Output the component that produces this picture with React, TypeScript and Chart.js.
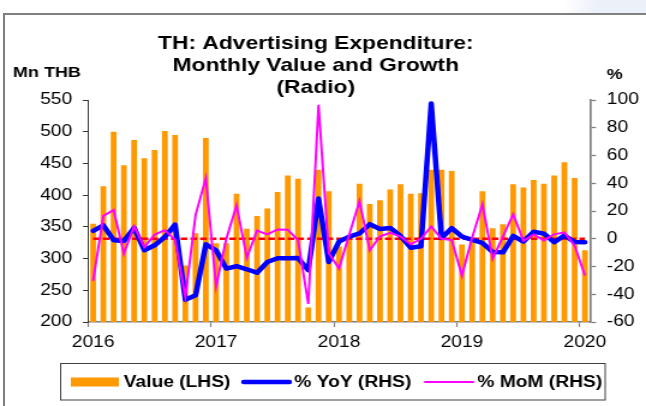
import React, { useEffect, useRef } from 'react';
import { Chart, registerables } from 'chart.js';

Chart.register(...registerables);

const months = [
  'Jan-16', 'Feb-16', 'Mar-16', 'Apr-16', 'May-16', 'Jun-16', 'Jul-16', 'Aug-16', 'Sep-16', 'Oct-16', 'Nov-16', 'Dec-16',
  'Jan-17', 'Feb-17', 'Mar-17', 'Apr-17', 'May-17', 'Jun-17', 'Jul-17', 'Aug-17', 'Sep-17', 'Oct-17', 'Nov-17', 'Dec-17',
  'Jan-18', 'Feb-18', 'Mar-18', 'Apr-18', 'May-18', 'Jun-18', 'Jul-18', 'Aug-18', 'Sep-18', 'Oct-18', 'Nov-18', 'Dec-18',
  'Jan-19', 'Feb-19', 'Mar-19', 'Apr-19', 'May-19', 'Jun-19', 'Jul-19', 'Aug-19', 'Sep-19', 'Oct-19', 'Nov-19', 'Dec-19',
  'Jan-20',
];

const yearLabels = ['2016', '2017', '2018', '2019', '2020'];

// Mn THB
const valueLHS = [
  355, 414, 500, 447, 487, 458, 471, 501, 495, 289, 340, 490,
  324, 324, 402, 347, 367, 379, 405, 431, 426, 223, 440, 406,
  319, 330, 418, 386, 392, 409, 417, 402, 403, 440, 440, 438,
  322, 326, 406, 348, 354, 417, 412, 424, 418, 431, 452, 427,
  313,
];

// % YoY
const yoyRHS = [
  5.7, 9.7, -1, -1.6, 7.8, -8.3, -4.7, 1.3, 10.2, -44, -40.8, -4,
  -8.3, -21.5, -19.8, -22, -24.5, -16.8, -14, -14, -13.9, -22.7, 29, -16.7,
  -2, 1.5, 3.8, 10.5, 7, 7.8, 2, -6.5, -5.4, 97.5, 0.5, 7.6,
  1.5, -0.8, -3, -9.6, -9.8, 2, -2, 5, 3.7, -2.5, 2.3, -2.4,
  -2.5,
];

// % MoM
const momRHS = [
  -30.4, 16.5, 20.7, -10.7, 9, -6, 3, 6.2, -0.8, -42, 17.2, 43.6,
  -34.2, 0, 24, -13.7, 5.8, 3.2, 6.7, 6.5, -1.1, -47, 96.5, -10.5,
  -21.5, 3, 27, -8.3, 1.8, 4.2, 1.6, -4, 0, 8.8, 0, -1,
  -26.5, 1, 24.8, -14.3, 1.5, 17.7, -1.5, 3.1, -1.2, 3.2, 4.6, -5,
  -26.5,
];

const W = 538;
const H = 406;
const SX = 646 / W;

const FONT = "'Liberation Sans', Arial, sans-serif";

const decorPlugin = {
  id: 'decor',
  afterDatasetDraw(chart: any, args: any) {
    if (args.index !== 0) return;
    const ctx = chart.ctx;
    const x = chart.scales.x;
    const y1 = chart.scales.y1;
    const yz = y1.getPixelForValue(0);
    ctx.save();
    ctx.strokeStyle = '#FF0000';
    ctx.lineWidth = 2.5;
    ctx.setLineDash([5.5, 2.6]);
    ctx.beginPath();
    ctx.moveTo(x.getPixelForValue(0), yz);
    ctx.lineTo(x.getPixelForValue(months.length - 1), yz);
    ctx.stroke();
    ctx.restore();
  },
  afterDraw(chart: any) {
    const ctx = chart.ctx;
    ctx.save();
    ctx.fillStyle = '#000';
    ctx.textBaseline = 'middle';
    // Title
    ctx.font = `bold 19px ${FONT}`;
    ctx.textAlign = 'center';
    const tx = 263;
    ctx.fillText('TH: Advertising Expenditure:', tx, 44);
    ctx.fillText('Monthly Value and Growth', tx, 66);
    ctx.fillText('(Radio)', tx, 88);
    // Axis titles
    ctx.font = `bold 15px ${FONT}`;
    ctx.textAlign = 'left';
    ctx.fillText('Mn THB', 10.8, 73);
    ctx.textAlign = 'center';
    ctx.fillText('%', 512, 75);

    // Legend box
    ctx.strokeStyle = '#404040';
    ctx.lineWidth = 1;
    ctx.strokeRect(50.5, 363.5, 453.5, 36.5);
    const ly = 382;
    ctx.fillStyle = '#FF9900';
    ctx.fillRect(59, 377.5, 40, 9);
    ctx.strokeStyle = '#0000FF';
    ctx.lineWidth = 4.5;
    ctx.lineCap = 'round';
    ctx.beginPath();
    ctx.moveTo(203, ly);
    ctx.lineTo(241, ly);
    ctx.stroke();
    ctx.strokeStyle = '#FF00FF';
    ctx.lineWidth = 2;
    ctx.beginPath();
    ctx.moveTo(354, ly);
    ctx.lineTo(394, ly);
    ctx.stroke();
    ctx.fillStyle = '#000';
    ctx.font = `bold 16px ${FONT}`;
    ctx.textAlign = 'left';
    ctx.fillText('Value (LHS)', 103, ly + 0.5);
    ctx.fillText('% YoY (RHS)', 245, ly + 0.5);
    ctx.fillText('% MoM (RHS)', 397.5, ly + 0.5);
    ctx.restore();
  },
};

export default function App() {
  const ref = useRef<HTMLCanvasElement | null>(null);

  useEffect(() => {
    if (!ref.current) return;
    const chart = new Chart(ref.current, {
      type: 'bar',
      data: {
        labels: months,
        datasets: [
          {
            type: 'bar',
            label: 'Value (LHS)',
            data: valueLHS,
            backgroundColor: '#FF9900',
            borderWidth: 0,
            yAxisID: 'y',
            barPercentage: 0.56,
            categoryPercentage: 1,
            order: 3,
          } as any,
          {
            type: 'line',
            label: '% YoY (RHS)',
            data: yoyRHS,
            borderColor: '#0000FF',
            backgroundColor: '#0000FF',
            borderWidth: 4.5,
            pointRadius: 0,
            tension: 0,
            borderJoinStyle: 'round',
            borderCapStyle: 'round',
            yAxisID: 'y1',
            order: 2,
          } as any,
          {
            type: 'line',
            label: '% MoM (RHS)',
            data: momRHS,
            borderColor: '#FF00FF',
            backgroundColor: '#FF00FF',
            borderWidth: 2,
            pointRadius: 0,
            tension: 0,
            yAxisID: 'y1',
            order: 1,
          } as any,
        ],
      },
      options: {
        responsive: false,
        animation: false,
        devicePixelRatio: 1,
        layout: { padding: { top: 100, left: 0, right: 0, bottom: 0 } },
        plugins: {
          legend: { display: false },
          title: { display: false },
          tooltip: { enabled: false },
        },
        scales: {
          x: {
            type: 'category',
            offset: true,
            afterFit: (s: any) => { s.height = 84; },
            grid: {
              offset: true,
              drawOnChartArea: false,
              drawTicks: true,
              tickLength: 5,
              tickWidth: 1.2,
              tickColor: (c: any) => (c.index !== undefined && c.index % 12 === 0 ? '#808080' : 'rgba(0,0,0,0)'),
            },
            border: { display: true, color: '#808080', width: 1.5 },
            ticks: {
              autoSkip: false,
              maxRotation: 0,
              minRotation: 0,
              padding: 6,
              color: '#000',
              font: { family: FONT, size: 16 },
              callback: (_v: any, i: number) => (i % 12 === 0 ? yearLabels[i / 12] : ''),
            },
          },
          y: {
            type: 'linear',
            position: 'left',
            min: 200,
            max: 550,
            afterFit: (s: any) => { s.width = 88 / SX; },
            grid: { drawOnChartArea: false, drawTicks: true, tickLength: 4.2, tickColor: '#333' },
            border: { display: true, color: '#333', width: 1 },
            ticks: {
              stepSize: 50,
              padding: 9,
              color: '#000',
              font: { family: FONT, size: 16 },
            },
          },
          y1: {
            type: 'linear',
            position: 'right',
            min: -60,
            max: 100,
            afterFit: (s: any) => { s.width = W - 590 / SX; },
            grid: { drawOnChartArea: false, drawTicks: true, tickLength: 5, tickColor: '#808080', tickWidth: 1.3 },
            border: { display: true, color: '#808080', width: 1.7 },
            ticks: {
              stepSize: 20,
              padding: 9,
              color: '#000',
              font: { family: FONT, size: 16 },
            },
          },
        },
      } as any,
      plugins: [decorPlugin],
    });
    return () => chart.destroy();
  }, []);

  return (
    <div style={{ position: 'fixed', left: 0, top: 0, width: 646, height: 406, overflow: 'hidden', background: '#fff' }}>
      <div
        style={{
          position: 'absolute', left: 520, top: 0, width: 126, height: 13,
          background: 'linear-gradient(100deg, rgba(238,241,249,0) 0%, rgba(238,241,249,0) 35%, rgba(236,240,249,1) 60%)',
        }}
      />
      <div
        style={{
          position: 'absolute', left: 3, top: 12.5, width: 700, height: 500,
          borderLeft: '2px solid #7f7f7f', borderTop: '2px solid #7f7f7f',
        }}
      />
      <div style={{ position: 'absolute', left: 0, top: 0, width: W, height: H, transform: `scaleX(${SX})`, transformOrigin: '0 0' }}>
        <canvas ref={ref} width={W} height={H} style={{ display: 'block', width: W, height: H }} />
      </div>
    </div>
  );
}
